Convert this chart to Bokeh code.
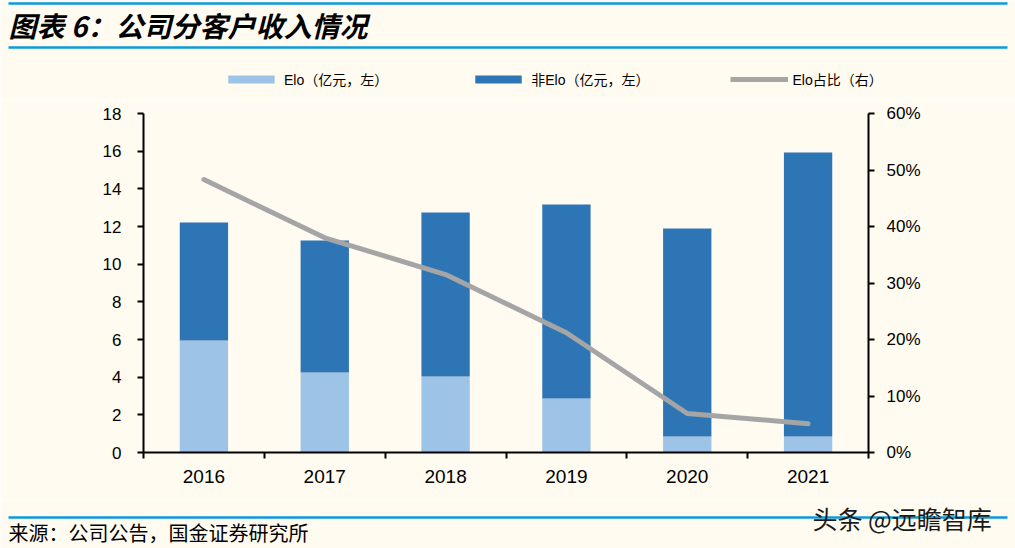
from bokeh.plotting import figure
from bokeh.models import (Range1d, LinearAxis, FixedTicker, NumeralTickFormatter,
                          Legend, LegendItem, ColumnDataSource)
from bokeh.layouts import column
from bokeh.core.properties import value
from bokeh.embed import file_html
from bokeh.resources import INLINE

# ---- data ----
years = ["2016", "2017", "2018", "2019", "2020", "2021"]
elo = [5.95, 4.25, 4.04, 2.87, 0.85, 0.85]          # 亿元
non_elo = [6.26, 7.01, 8.71, 10.30, 11.05, 15.08]   # 亿元
elo_ratio = [0.483, 0.380, 0.315, 0.212, 0.069, 0.051]
left_ticks = [0, 2, 4, 6, 8, 10, 12, 14, 16, 18]
right_ticks = [0, 0.1, 0.2, 0.3, 0.4, 0.5, 0.6]

title_text = "图表 6：公司分客户收入情况"
legend_labels = ["Elo（亿元，左）", "非Elo（亿元，左）", "Elo占比（右）"]
source_text = "来源：公司公告，国金证券研究所"
watermark_text = "头条 @远瞻智库"

BG = "#FFFBF0"
LIGHT = "#9DC3E6"
DARK = "#2E75B6"
GREY = "#A5A5A5"
RULE = "#0A9BDB"
LATIN = "Liberation Sans, Noto Sans CJK SC"
CJK = "Noto Sans CJK SC"

W = 1015


def deco_fig(h):
    f = figure(width=W, height=h, x_range=Range1d(0, W), y_range=Range1d(h, 0),
               output_backend="svg", toolbar_location=None,
               x_axis_type=None, y_axis_type=None, min_border=0)
    f.frame_align = False
    f.background_fill_color = BG
    f.border_fill_color = BG
    f.outline_line_color = None
    f.xgrid.visible = False
    f.ygrid.visible = False
    return f


# ---- top: title, rules and legend ----
TOP_H = 100
top = deco_fig(TOP_H)
top.segment(x0=[8, 8], y0=[3, 47], x1=[1007, 1007], y1=[3, 47],
            line_color=RULE, line_width=2.5)
top.text(x=[8], y=[24], text=[title_text], text_font=value(CJK),
         text_font_size=value("28px"), text_font_style="bold italic",
         text_baseline="middle", text_align="left", text_color="black")

# legend swatches share the chart's styles (proxy renderers, kept out of view)
proxy = ColumnDataSource(dict(x=[-500, -400], top=[-500, -500], y=[-500, -500]))
sw_elo = top.vbar(x="x", top="top", width=1, source=proxy, fill_color=LIGHT, line_color=None)
sw_non = top.vbar(x="x", top="top", width=1, source=proxy, fill_color=DARK, line_color=None)
sw_ratio = top.line(x="x", y="y", source=proxy, line_color=GREY, line_width=5, line_cap="butt")
leg = Legend(items=[LegendItem(label=legend_labels[0], renderers=[sw_elo]),
                    LegendItem(label=legend_labels[1], renderers=[sw_non]),
                    LegendItem(label=legend_labels[2], renderers=[sw_ratio])],
             orientation="horizontal", location=(222, TOP_H - 89),
             glyph_width=58, glyph_height=10, label_height=14, label_standoff=4,
             spacing=81, padding=0, margin=0,
             background_fill_alpha=0, border_line_color=None,
             label_text_font=LATIN, label_text_font_size="14px",
             label_text_color="black")
top.add_layout(leg, "center")

# ---- main chart ----
xs = [i + 0.5 for i in range(len(years))]
src = ColumnDataSource(dict(x=xs, elo=elo, non_elo=non_elo, ratio=elo_ratio))

BL, BR, BT, BB = 143, 147, 13, 48
FH = 339
MAIN_H = BT + FH + BB

p = figure(width=W, height=MAIN_H, x_range=Range1d(0, len(years)), y_range=Range1d(0, 18),
           output_backend="svg", toolbar_location=None,
           min_border_left=BL, min_border_right=BR, min_border_top=BT, min_border_bottom=BB)
p.frame_align = False
p.extra_y_ranges = {"pct": Range1d(0, 0.6)}
p.background_fill_color = BG
p.border_fill_color = BG
p.outline_line_color = None
p.xgrid.visible = False
p.ygrid.visible = False

bars = p.vbar_stack(["elo", "non_elo"], x="x", width=0.4, color=[LIGHT, DARK],
                    line_color=None, source=src)
ln = p.line("x", "ratio", source=src, y_range_name="pct", line_color=GREY,
            line_width=5, line_cap="round", line_join="round")

xa = p.xaxis[0]
xa.ticker = FixedTicker(ticks=xs, minor_ticks=list(range(len(years) + 1)))
xa.major_label_overrides = {x: y for x, y in zip(xs, years)}
xa.major_tick_line_color = None
xa.minor_tick_in = 0
xa.minor_tick_out = 6
xa.minor_tick_line_width = 2
xa.minor_tick_line_color = "black"
xa.axis_line_width = 2
xa.axis_line_color = "black"
xa.major_label_text_font = LATIN
xa.major_label_text_font_size = "19px"
xa.major_label_text_color = "black"
xa.major_label_standoff = 11

ya = p.yaxis[0]
ya.ticker = FixedTicker(ticks=left_ticks)
ya.major_tick_in = 0
ya.major_tick_out = 6
ya.major_tick_line_width = 2
ya.minor_tick_line_color = None
ya.axis_line_width = 2
ya.major_label_text_font = LATIN
ya.major_label_text_font_size = "17px"
ya.major_label_text_color = "black"
ya.major_label_standoff = 16

ra = LinearAxis(y_range_name="pct", ticker=FixedTicker(ticks=right_ticks),
                formatter=NumeralTickFormatter(format="0%"))
ra.major_tick_in = 0
ra.major_tick_out = 6
ra.major_tick_line_width = 2
ra.minor_tick_line_color = None
ra.axis_line_width = 2
ra.major_label_text_font = LATIN
ra.major_label_text_font_size = "17px"
ra.major_label_text_color = "black"
ra.major_label_standoff = 12
p.add_layout(ra, "right")

# ---- bottom: rule, source, watermark ----
BOT_H = 548 - TOP_H - MAIN_H
bot = deco_fig(BOT_H)
bot.segment(x0=[8], y0=[17], x1=[1007], y1=[17], line_color=RULE, line_width=2.5)
bot.text(x=[8], y=[32], text=[source_text], text_font=value(CJK),
         text_font_size=value("20px"), text_baseline="middle", text_align="left",
         text_color="black")
bot.text(x=[812], y=[17], text=[watermark_text], text_font=value(CJK),
         text_font_size=value("25px"), text_baseline="middle", text_align="left",
         text_color="#1a1a1a")

layout = column(top, p, bot, spacing=0)
open("out.html", "w").write(file_html(layout, INLINE))
